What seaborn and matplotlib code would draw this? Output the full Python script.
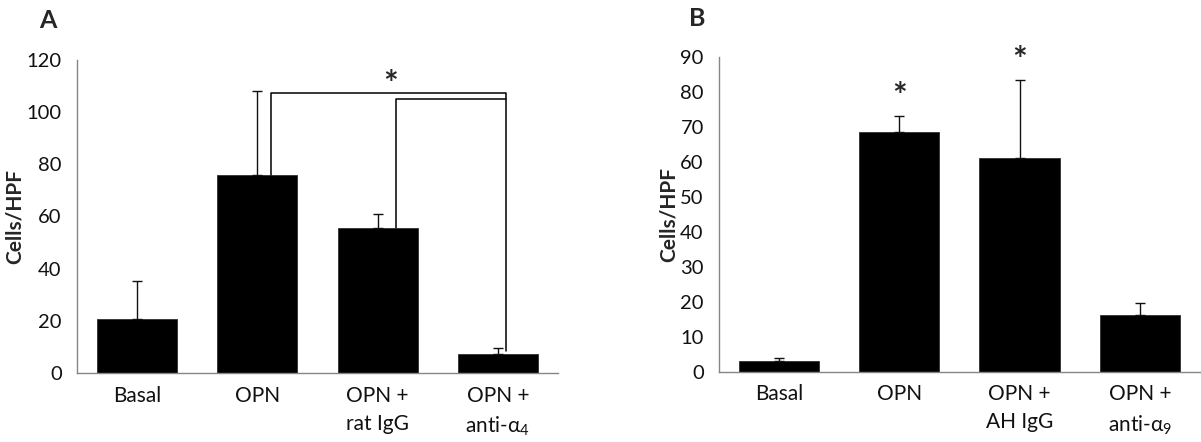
import numpy as np
import pandas as pd
import seaborn as sns
import matplotlib.pyplot as plt

# Dados
labels_a = ['Basal', 'OPN', 'OPN +\nrat IgG', 'OPN +\nanti-α$_4$']
means_a = [20.7, 75.9, 55.6, 7.3]
err_a = [14.7, 32.3, 5.5, 2.3]

labels_b = ['Basal', 'OPN', 'OPN +\nAH IgG', 'OPN +\nanti-α$_9$']
means_b = [3.05, 68.6, 61.2, 16.4]
err_b = [1.05, 4.5, 22.2, 3.4]

sns.set_style('white')
plt.rcParams['font.family'] = ['Lato', 'DejaVu Sans']
plt.rcParams['mathtext.fontset'] = 'custom'
plt.rcParams['mathtext.rm'] = 'Lato'
plt.rcParams['mathtext.it'] = 'Lato'

fig = plt.figure(figsize=(12.01, 4.42), dpi=100)
ax_a = fig.add_axes([0.0641, 0.1561, 0.4005, 0.7082])
ax_b = fig.add_axes([0.5987, 0.1584, 0.4004, 0.7127])

grey = '#868686'


def painel(ax, labels, means, errs, ymax, step):
    df = pd.DataFrame({'grupo': labels, 'valor': means})
    sns.barplot(data=df, x='grupo', y='valor', color='black', width=0.667,
                errorbar=None, edgecolor='#303030', linewidth=0.6, ax=ax)
    x = np.arange(len(labels))
    ax.errorbar(x, means, yerr=[np.zeros(len(errs)), errs], fmt='none',
                ecolor='#111111', elinewidth=1.0, capsize=3.3, capthick=1.0)
    ax.set_xlim(-0.5, len(labels) - 0.5)
    ax.set_ylim(0, ymax)
    ax.set_yticks(np.arange(0, ymax + 1, step))
    ax.set_xticks(np.arange(-0.5, len(labels)), minor=True)
    ax.tick_params(axis='x', which='major', length=0, labelsize=15, pad=9,
                   labelcolor='#111111')
    ax.tick_params(axis='x', which='minor', length=6, color=grey, width=1)
    ax.tick_params(axis='y', length=6, color=grey, width=1, labelsize=14.5,
                   pad=5, labelcolor='#111111')
    ax.set_xlabel('')
    ax.set_ylabel('Cells/HPF', fontsize=15, fontweight='bold', labelpad=1)
    for s in ['top', 'right']:
        ax.spines[s].set_visible(False)
    for s in ['left', 'bottom']:
        ax.spines[s].set_color(grey)
        ax.spines[s].set_linewidth(1)
    for t in ax.get_xticklabels():
        t.set_linespacing(1.5)


painel(ax_a, labels_a, means_a, err_a, 120, 20)
painel(ax_b, labels_b, means_b, err_b, 90, 10)

# Colchetes de significancia (painel A)
kw = dict(color='black', lw=1.1, clip_on=False)
ax_a.plot([1.11, 1.11, 3.07, 3.07], [means_a[1], 107.3, 107.3, 8.3], **kw)
ax_a.plot([2.15, 2.15, 3.07], [means_a[2], 104.9, 104.9], **kw)
ax_a.text(2.11, 110.5, '*', ha='center', va='center', fontsize=25, fontweight='bold')

# Asteriscos (painel B)
ax_b.text(1, 78.6, '*', ha='center', va='center', fontsize=25, fontweight='bold')
ax_b.text(2, 88.9, '*', ha='center', va='center', fontsize=25, fontweight='bold')

fig.text(39 / 1201, 1 - 20 / 442, 'A', fontsize=18, fontweight='bold', va='center')
fig.text(689 / 1201, 1 - 19 / 442, 'B', fontsize=18, fontweight='bold', va='center')

plt.savefig('out.png', dpi=100)
